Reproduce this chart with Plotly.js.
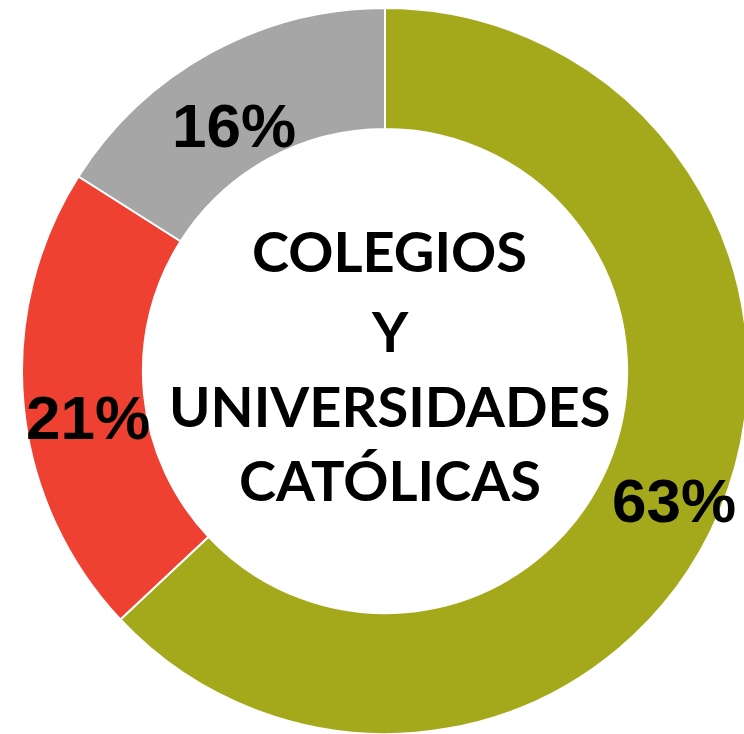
<!DOCTYPE html>
<html>
<head>
<meta charset="utf-8">
<script src="https://cdn.plot.ly/plotly-3.0.1.min.js"></script>
<style>
html,body{margin:0;padding:0;overflow:hidden;background:#fff;}
#chart{width:770px;height:742px;}
</style>
</head>
<body>
<div id="chart"></div>
<script>
const categories = ["Grupo A", "Grupo B", "Grupo C"];
const values = [63, 21, 16];
const colors = ["#A4A91C", "#EF4132", "#A6A6A6"];
const centerLines = ["COLEGIOS", "Y", "UNIVERSIDADES", "CATÓLICAS"];

const W = 770, H = 742;
// label pixel positions (page coordinates)
const labelPos = [[674, 500], [88, 417], [234, 126]];
const centerLineY = [250, 330, 405, 480];
const centerX = 390;

const total = values.reduce((a, b) => a + b, 0);
const annotations = [];
values.forEach((v, i) => {
  annotations.push({
    text: "<b>" + Math.round(v / total * 100) + "%</b>",
    x: labelPos[i][0] / W, y: 1 - labelPos[i][1] / H,
    xref: "paper", yref: "paper", showarrow: false,
    xanchor: "center", yanchor: "middle",
    font: {family: "Liberation Sans, Arial, sans-serif", size: 62, color: "#000"}
  });
});
centerLines.forEach((t, i) => {
  annotations.push({
    text: "<b>" + t + "</b>",
    x: centerX / W, y: 1 - centerLineY[i] / H,
    xref: "paper", yref: "paper", showarrow: false,
    xanchor: "center", yanchor: "middle",
    font: {family: "Lato, Open Sans, sans-serif", size: 56, color: "#000"}
  });
});

const trace = {
  type: "pie",
  labels: categories,
  values: values,
  hole: 0.667,
  sort: false,
  direction: "clockwise",
  rotation: 0,
  textinfo: "none",
  hoverinfo: "label+percent",
  marker: {colors: colors, line: {color: "#ffffff", width: 2}},
  domain: {x: [22 / W, 748 / W], y: [(H - 734) / H, (H - 8) / H]}
};

Plotly.newPlot("chart", [trace], {
  width: W, height: H,
  margin: {l: 0, r: 0, t: 0, b: 0},
  showlegend: false,
  paper_bgcolor: "#fff",
  annotations: annotations
}, {displayModeBar: false, staticPlot: true});
</script>
</body>
</html>
